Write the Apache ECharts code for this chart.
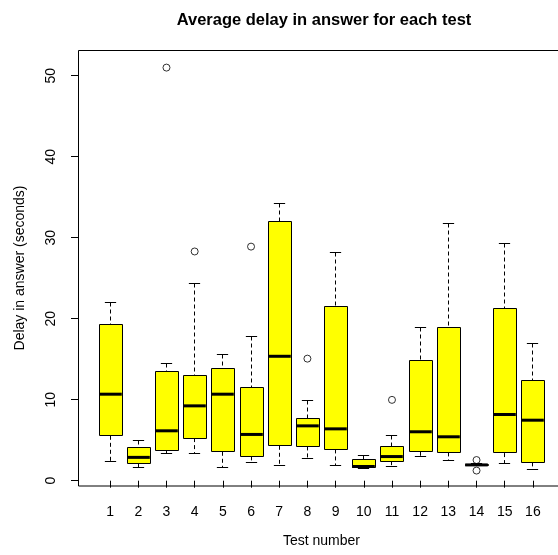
<!DOCTYPE html>
<html>
<head>
<meta charset="utf-8">
<script src="https://cdn.jsdelivr.net/npm/echarts@6/dist/echarts.min.js"></script>
<style>
  html, body { margin: 0; padding: 0; background: #fff; }
  #chart { width: 558px; height: 555px; }
</style>
</head>
<body>
<div id="chart"></div>
<script>
// test numbers on the x axis
var categories = ["1", "2", "3", "4", "5", "6", "7", "8", "9", "10", "11", "12", "13", "14", "15", "16"];
// box statistics per test (seconds)
var lowerWhisker = [2.43, 1.65, 3.41, 3.41, 1.69, 2.30, 1.93, 2.80, 1.85, 1.55, 1.81, 3.00, 2.46, 1.88, 2.10, 1.40];
var lowerQuartile = [5.54, 2.14, 3.66, 5.26, 3.57, 3.00, 4.31, 4.23, 3.86, 1.60, 2.41, 3.57, 3.49, 1.90, 3.41, 2.26];
var medians = [10.68, 2.88, 6.16, 9.24, 10.68, 5.71, 15.36, 6.77, 6.40, 1.75, 2.98, 6.04, 5.42, 1.95, 8.17, 7.47];
var upperQuartile = [19.26, 4.15, 13.42, 12.98, 13.84, 11.50, 31.98, 7.68, 21.55, 2.63, 4.25, 14.82, 18.97, 2.03, 21.23, 12.36];
var upperWhisker = [21.97, 5.01, 14.53, 24.31, 15.64, 17.86, 34.24, 9.85, 28.20, 3.10, 5.59, 18.97, 31.70, 2.08, 29.23, 16.88];
// outliers: test number and value
var outlierTest = [3, 4, 6, 8, 11, 14, 14];
var outlierValue = [51.0, 28.3, 28.9, 15.07, 9.98, 2.55, 1.25];
// y tick labels
var yTicks = [0, 10, 20, 30, 40, 50];

var boxData = categories.map(function (c, i) {
  return [i, lowerWhisker[i], lowerQuartile[i], medians[i], upperQuartile[i], upperWhisker[i]];
});
var outlierData = outlierTest.map(function (t, i) {
  return [t - 1, outlierValue[i]];
});

var FONT = "Liberation Sans, Arial, sans-serif";

function crisp(v) {
  return Math.round(v - 0.5) + 0.5;
}

// R style box: dashed whiskers, short staples, thick median
function renderBox(params, api) {
  var x = api.value(0);
  var lo = api.coord([x, api.value(1)]);
  var q1 = api.coord([x, api.value(2)]);
  var md = api.coord([x, api.value(3)]);
  var q3 = api.coord([x, api.value(4)]);
  var hi = api.coord([x, api.value(5)]);
  var w = api.size([1, 0])[0] * 0.8;
  var cx = crisp(lo[0]);
  var s = w / 4;
  var solid = { stroke: "#000", lineWidth: 1 };
  var dash = { stroke: "#000", lineWidth: 1, lineDash: [4, 3] };
  return {
    type: "group",
    children: [
      { type: "line", shape: { x1: cx, y1: crisp(hi[1]), x2: cx, y2: q3[1] }, style: dash },
      { type: "line", shape: { x1: cx, y1: q1[1], x2: cx, y2: crisp(lo[1]) }, style: dash },
      { type: "line", shape: { x1: cx - s, y1: crisp(hi[1]), x2: cx + s, y2: crisp(hi[1]) }, style: solid },
      { type: "line", shape: { x1: cx - s, y1: crisp(lo[1]), x2: cx + s, y2: crisp(lo[1]) }, style: solid },
      {
        type: "rect",
        shape: { x: crisp(cx - w / 2), y: crisp(q3[1]), width: Math.round(w), height: Math.round(q1[1] - q3[1]) },
        style: { fill: "#ffff00", stroke: "#000", lineWidth: 1 }
      },
      { type: "line", shape: { x1: cx - w / 2, y1: md[1], x2: cx + w / 2, y2: md[1] }, style: { stroke: "#000", lineWidth: 3 } }
    ]
  };
}

var chart = echarts.init(document.getElementById("chart"));
chart.setOption({
  animation: false,
  backgroundColor: "#fff",
  textStyle: { fontFamily: FONT, color: "#000" },
  title: {
    text: "Average delay in answer for each test",
    left: 319,
    textAlign: "center",
    top: 7,
    textStyle: { fontSize: 16.5, fontWeight: "bold", color: "#000", fontFamily: FONT }
  },
  grid: { left: 96, right: 11, top: 75.7, bottom: 74.3 },
  xAxis: {
    type: "category",
    data: categories,
    offset: 5,
    boundaryGap: true,
    axisLine: { show: false },
    axisTick: { show: true, alignWithLabel: true, length: 7, lineStyle: { color: "#000" } },
    axisLabel: { color: "#000", fontSize: 14, margin: 19, interval: 0 },
    splitLine: { show: false },
    name: "Test number",
    nameLocation: "middle",
    nameGap: 48,
    nameTextStyle: { color: "#000", fontSize: 14 }
  },
  yAxis: {
    type: "value",
    min: 0,
    max: 50,
    interval: 10,
    offset: 18,
    axisLine: { show: true, lineStyle: { color: "#000" } },
    axisTick: { show: true, length: 7, lineStyle: { color: "#000" } },
    axisLabel: {
      color: "#000",
      fontSize: 14,
      rotate: 90,
      margin: 20,
      formatter: function (v) { return yTicks.indexOf(v) >= 0 ? String(v) : ""; }
    },
    splitLine: { show: false }
  },
  graphic: [
    {
      type: "rect",
      shape: { x: 78.5, y: 50.5, width: 495, height: 435.5 },
      style: { fill: "none", stroke: "#000", lineWidth: 1 },
      z: 10
    },
    {
      type: "text",
      x: 20,
      y: 268,
      rotation: Math.PI / 2,
      style: {
        text: "Delay in answer (seconds)",
        fill: "#000",
        font: "14px " + FONT,
        align: "center",
        verticalAlign: "middle"
      }
    }
  ],
  series: [
    {
      type: "custom",
      renderItem: renderBox,
      data: boxData,
      encode: { x: 0, y: [1, 2, 3, 4, 5] },
      clip: false,
      z: 2
    },
    {
      type: "scatter",
      data: outlierData,
      symbol: "circle",
      symbolSize: 7,
      clip: false,
      itemStyle: { color: "rgba(0,0,0,0)", borderColor: "#000", borderWidth: 1 },
      z: 3
    }
  ]
});
</script>
</body>
</html>
